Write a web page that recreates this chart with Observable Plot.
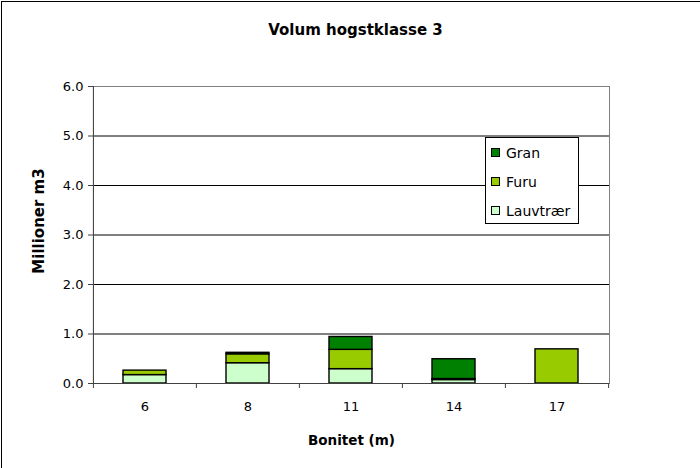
<!DOCTYPE html>
<html>
<head>
<meta charset="utf-8">
<script src="https://cdn.jsdelivr.net/npm/d3@7"></script>
<script src="https://cdn.jsdelivr.net/npm/@observablehq/plot@0.6"></script>
<style>
  body { margin: 0; background: #fff; }
  #wrap { position: relative; width: 700px; height: 468px; overflow: hidden; font-family: "DejaVu Sans", sans-serif; }
  #outer { position: absolute; left: 1px; top: 1px; width: 800px; height: 600px; border-top: 1px solid #000; border-left: 1px solid #000; pointer-events: none; }
  #legend { position: absolute; left: 485px; top: 137px; width: 92px; height: 85px; border: 1px solid #000; background: #fff; font-size: 14px; color: #000; }
  .item { position: absolute; left: 5px; height: 16px; line-height: 16px; white-space: nowrap; }
  .sw { display: inline-block; width: 7px; height: 7px; border: 1px solid #000; vertical-align: 1px; margin-right: 6px; }
</style>
</head>
<body>
<div id="wrap">
  <div id="chart"></div>
  <div id="legend"></div>
  <div id="outer"></div>
</div>
<script>
const title = "Volum hogstklasse 3";
const yLabel = "Millioner m3";
const xLabel = "Bonitet (m)";
const bonitet = ["6", "8", "11", "14", "17"];
const series = ["Lauvtrær", "Furu", "Gran"];
const colors = ["#CCFFCC", "#99CC00", "#008000"];
const lauvtraer = [0.17, 0.41, 0.29, 0.07, 0];
const furu = [0.09, 0.18, 0.39, 0.02, 0.69];
const gran = [0, 0.03, 0.26, 0.40, 0];
const yTicks = [0, 1, 2, 3, 4, 5, 6];

const values = [lauvtraer, furu, gran];
const data = [];
series.forEach((s, si) => bonitet.forEach((b, bi) => {
  if (values[si][bi] > 0) data.push({bonitet: b, art: s, v: values[si][bi]});
}));

const W = 700, H = 468, mL = 93, mR = 91, mT = 86, mB = 85;
const step = (W - mL - mR) / bonitet.length;
const font = "DejaVu Sans, sans-serif";

const chart = Plot.plot({
  width: W, height: H,
  marginLeft: mL, marginRight: mR, marginTop: mT, marginBottom: mB,
  style: {fontFamily: font, fontSize: "13px", color: "#000", background: "#fff"},
  x: {domain: bonitet, paddingInner: 0.58, paddingOuter: 0.29, label: null},
  y: {domain: [0, 6], label: null},
  color: {domain: series, range: colors},
  marks: [
    Plot.gridY(yTicks, {stroke: "#000", strokeOpacity: 1}),
    Plot.frame({stroke: "#808080"}),
    Plot.barY(data, Plot.stackY({
      x: "bonitet", y: "v", fill: "art", order: series,
      stroke: "#000", strokeWidth: 1.4
    })),
    Plot.ruleX([0], {x: () => bonitet[0], dx: -step / 2, stroke: "#404040"}),
    Plot.ruleY([0], {stroke: "#404040"}),
    Plot.axisY(yTicks, {tickFormat: d3.format(".1f"), tickSize: 5, tickPadding: 5, stroke: "#404040", fontSize: 13, label: null}),
    Plot.axisX(bonitet, {tickSize: 5, tickFormat: () => "", dx: -step / 2, stroke: "#404040", label: null}),
    Plot.axisX([bonitet[bonitet.length - 1]], {tickSize: 5, tickFormat: () => "", dx: step / 2, stroke: "#404040", label: null}),
    Plot.axisX(bonitet, {tickSize: 0, tickPadding: 18, fontSize: 13, label: null}),
    Plot.text([title], {frameAnchor: "top", dy: -56, dx: 4, textAnchor: "middle", lineAnchor: "middle", fontWeight: "bold", fontSize: 15}),
    Plot.text([yLabel], {frameAnchor: "left", dx: -54, dy: -14, rotate: -90, textAnchor: "middle", lineAnchor: "middle", fontWeight: "bold", fontSize: 15}),
    Plot.text([xLabel], {frameAnchor: "bottom", dy: 57, textAnchor: "middle", lineAnchor: "middle", fontWeight: "bold", fontSize: 13.5})
  ]
});
document.getElementById("chart").appendChild(chart);

const legend = document.getElementById("legend");
const legendOrder = ["Gran", "Furu", "Lauvtrær"];
legendOrder.forEach((s, i) => {
  const el = document.createElement("div");
  el.className = "item";
  el.style.top = (7 + i * 29) + "px";
  const sw = document.createElement("span");
  sw.className = "sw";
  sw.style.background = colors[series.indexOf(s)];
  el.appendChild(sw);
  el.appendChild(document.createTextNode(s));
  legend.appendChild(el);
});
</script>
</body>
</html>
